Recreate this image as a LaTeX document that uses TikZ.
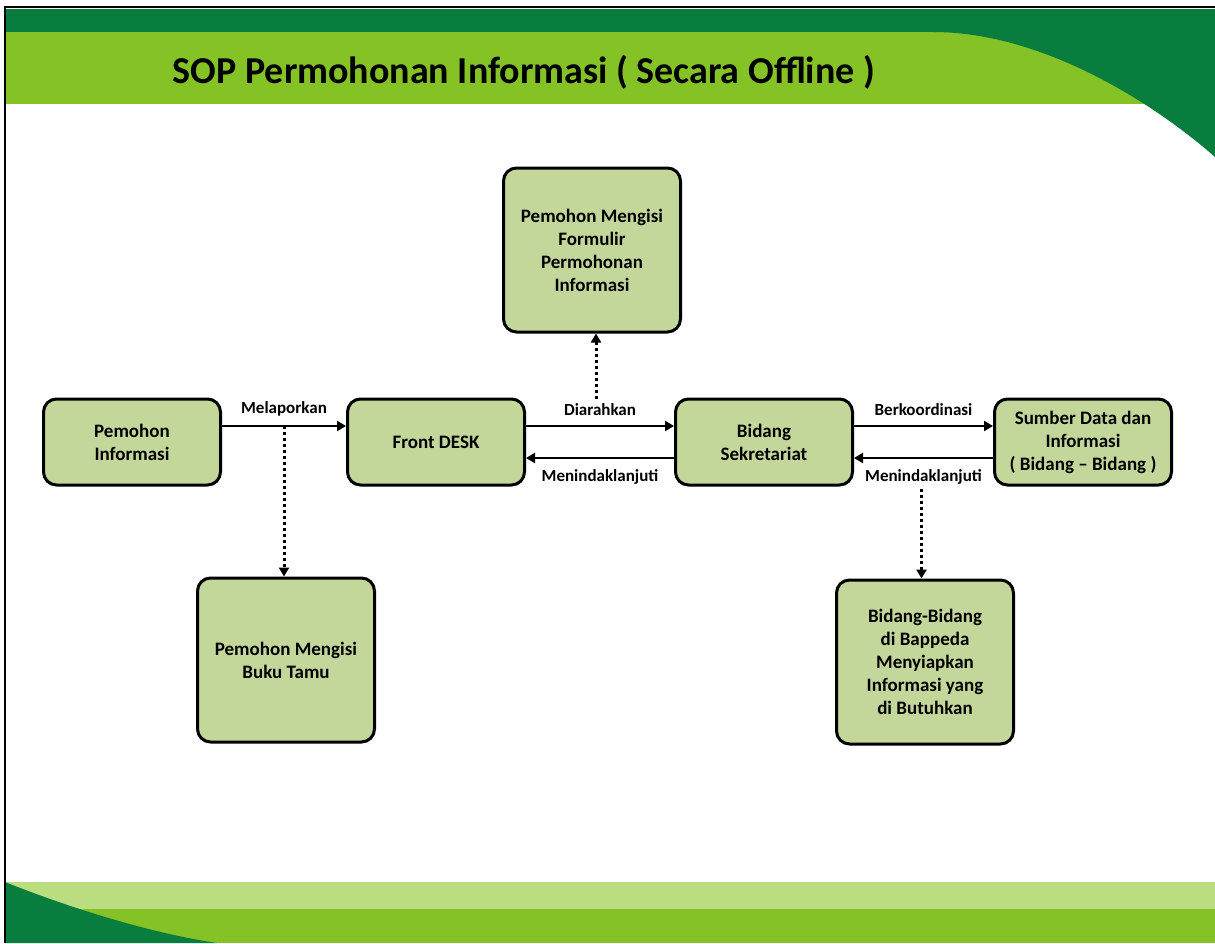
\documentclass[tikz,border=0pt]{standalone}
\usepackage{fontspec}
\setmainfont{Carlito}
\usepackage{tikz}
\usetikzlibrary{arrows.meta, positioning, backgrounds}
\definecolor{darkband}{RGB}{8, 125, 62}
\definecolor{limeband}{RGB}{132, 194, 37}
\definecolor{paleband}{RGB}{185, 221, 127}
\definecolor{boxbg}{RGB}{196, 215, 155}
\tikzset{
    font=\bfseries\fontsize{19}{23}\selectfont,
    stepbox/.style={rectangle, rounded corners=13pt, draw=black, fill=boxbg, line width=3pt, align=center, minimum width=177pt, minimum height=86pt},
    tallbox/.style={stepbox, minimum height=164pt},
    arrow/.style={-{Triangle[length=9pt, width=10pt]}, line width=2.2pt, color=black},
    dotarrow/.style={-{Triangle[length=9pt, width=10pt]}, line width=3pt, dash pattern=on 3pt off 3pt},
    flowlabel/.style={font=\bfseries\fontsize{17}{20}\selectfont, inner sep=4pt}
}

\begin{document}
\begin{tikzpicture}[x=1pt, y=-1pt, node distance=124pt]

    \useasboundingbox (0,0) rectangle (1215,943);

    \node (title) [font=\bfseries\fontsize{38}{44}\selectfont] at (524,72) {SOP Permohonan Informasi ( Secara Offline )};

    \node (pemohon)     [stepbox] at (132,442) {Pemohon\\Informasi};
    \node (frontdesk)   [stepbox, right=124pt of pemohon] {Front DESK};
    \node (sekretariat) [stepbox, right=148pt of frontdesk] {Bidang\\Sekretariat};
    \node (sumber)      [stepbox, right=139pt of sekretariat] {Sumber Data dan\\Informasi\\( Bidang -- Bidang )};

    \node (formulir) [tallbox] at (592,250) {Pemohon Mengisi\\Formulir\\Permohonan\\Informasi};
    \node (bukutamu) [tallbox] at (286,660) {Pemohon Mengisi\\Buku Tamu};
    \node (bidang)   [tallbox] at (925,662) {Bidang-Bidang\\di Bappeda\\Menyiapkan\\Informasi yang\\di Butuhkan};

    \draw [arrow] ([yshift=16pt]pemohon.east) -- node [flowlabel, above=5pt] (lapor) {Melaporkan} ([yshift=16pt]frontdesk.west) coordinate [midway] (laporpt);
    \draw [arrow] ([yshift=16pt]frontdesk.east) -- node [flowlabel, above=5pt] (arah) {Diarahkan} ([yshift=16pt]sekretariat.west);
    \draw [arrow] ([yshift=-16pt]sekretariat.west) -- node [flowlabel, below=6pt] (tindak1) {Menindaklanjuti} ([yshift=-16pt]frontdesk.east);
    \draw [arrow] ([yshift=16pt]sekretariat.east) -- node [flowlabel, above=5pt] (koord) {Berkoordinasi} ([yshift=16pt]sumber.west);
    \draw [arrow] ([yshift=-16pt]sumber.west) -- node [flowlabel, below=6pt] (tindak2) {Menindaklanjuti} ([yshift=-16pt]sekretariat.east);

    \draw [dotarrow] (laporpt) -- (laporpt |- bukutamu.north);
    \draw [dotarrow] ([xshift=-4pt]arah.north) -- ([xshift=-4pt]arah.north |- formulir.south);
    \draw [dotarrow] ([xshift=-2pt]tindak2.south) -- ([xshift=-2pt]tindak2.south |- bidang.north);

    \begin{scope}[on background layer]
        \fill [darkband] (5,9) rectangle (1215,32);
        \fill [limeband] (5,32) rectangle (1215,104);
        \fill [darkband] (933,32) .. controls (1040,32) and (1150,100) .. (1215,157) -- (1215,32) -- cycle;
        \fill [paleband] (5,882) rectangle (1215,909);
        \fill [limeband] (5,909) rectangle (1215,943);
        \fill [darkband] (5,882) .. controls (70,908) and (150,933) .. (217,943) -- (5,943) -- cycle;
        \draw [line width=2pt] (5,943) -- (5,7) -- (1215,7);
    \end{scope}

\end{tikzpicture}
\end{document}
